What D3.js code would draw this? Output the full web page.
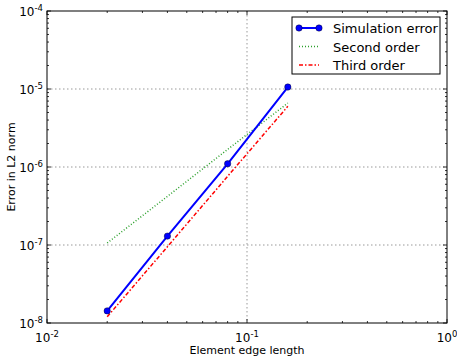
<!DOCTYPE html>
<html lang="en">
<head>
<meta charset="UTF-8">
<title>Convergence</title>
<script src="https://cdn.jsdelivr.net/npm/d3@7"></script>
<style>
  body { margin: 0; background: #fff; }
  text { font-family: "DejaVu Sans", sans-serif; fill: #000; }
  .grid line { stroke: #999; stroke-dasharray: 1.5,2.5; stroke-width: 1; }
</style>
</head>
<body>
<svg id="chart" width="457" height="363"></svg>
<script>
// data
var edgeLength = [0.02, 0.04, 0.08, 0.16];
var simError = [1.43e-8, 1.30e-7, 1.10e-6, 1.06e-5];
var secondOrder = [1.06e-7, 4.2e-7, 1.68e-6, 6.6e-6];
var thirdOrder = [1.2e-8, 9.5e-8, 7.6e-7, 6.0e-6];
var xTicks = [1e-2, 1e-1, 1e0];
var xTickLabels = ["-2", "-1", "0"];
var yTicks = [1e-8, 1e-7, 1e-6, 1e-5, 1e-4];
var yTickLabels = ["-8", "-7", "-6", "-5", "-4"];

var svg = d3.select("#chart");
var pLeft = 47, pRight = 447, pTop = 11, pBottom = 323;

var x = d3.scaleLog().domain([1e-2, 1]).range([pLeft, pRight]);
var y = d3.scaleLog().domain([1e-8, 1e-4]).range([pBottom, pTop]);

// grid
var grid = svg.append("g").attr("class", "grid");
grid.selectAll(".gx").data(xTicks.slice(1, -1)).enter().append("line")
    .attr("x1", d => x(d)).attr("x2", d => x(d))
    .attr("y1", pTop).attr("y2", pBottom);
grid.selectAll(".gy").data(yTicks.slice(1, -1)).enter().append("line")
    .attr("y1", d => y(d)).attr("y2", d => y(d))
    .attr("x1", pLeft).attr("x2", pRight);

// minor ticks
function minors(lo, hi) {
  var out = [];
  for (var e = lo; e < hi; e++)
    for (var m = 2; m <= 9; m++) out.push(m * Math.pow(10, e));
  return out;
}
var xMinor = minors(-2, 0), yMinor = minors(-8, -4);
var tk = svg.append("g").attr("stroke", "#000").attr("stroke-width", 0.8);
function xt(data, len) {
  tk.selectAll(null).data(data).enter().append("line")
    .attr("x1", d => x(d)).attr("x2", d => x(d)).attr("y1", pBottom).attr("y2", pBottom - len);
  tk.selectAll(null).data(data).enter().append("line")
    .attr("x1", d => x(d)).attr("x2", d => x(d)).attr("y1", pTop).attr("y2", pTop + len);
}
function yt(data, len) {
  tk.selectAll(null).data(data).enter().append("line")
    .attr("y1", d => y(d)).attr("y2", d => y(d)).attr("x1", pLeft).attr("x2", pLeft + len);
  tk.selectAll(null).data(data).enter().append("line")
    .attr("y1", d => y(d)).attr("y2", d => y(d)).attr("x1", pRight).attr("x2", pRight - len);
}
xt(xTicks, 4); xt(xMinor, 2); yt(yTicks, 4); yt(yMinor, 2);

// lines
var line = d3.line().x(d => x(d[0])).y(d => y(d[1]));
svg.append("path").datum(d3.zip(edgeLength, secondOrder))
    .attr("d", line).attr("fill", "none").attr("stroke", "#2ca02c")
    .attr("stroke-width", 1.5).attr("stroke-dasharray", "1,2");
svg.append("path").datum(d3.zip(edgeLength, thirdOrder))
    .attr("d", line).attr("fill", "none").attr("stroke", "#ff0000")
    .attr("stroke-width", 1.5).attr("stroke-dasharray", "4,2,1.5,2");
svg.append("path").datum(d3.zip(edgeLength, simError))
    .attr("d", line).attr("fill", "none").attr("stroke", "#0000ff").attr("stroke-width", 2);
svg.selectAll(".pt").data(d3.zip(edgeLength, simError)).enter().append("circle")
    .attr("cx", d => x(d[0])).attr("cy", d => y(d[1])).attr("r", 3.2)
    .attr("fill", "#0000ff").attr("stroke", "#000").attr("stroke-width", 0.4);

// frame
svg.append("rect").attr("x", pLeft).attr("y", pTop)
    .attr("width", pRight - pLeft).attr("height", pBottom - pTop)
    .attr("fill", "none").attr("stroke", "#000").attr("stroke-width", 1);

// tick labels
function pow10(g, exp, anchorX, anchorY, align) {
  var t = g.append("text").attr("x", anchorX).attr("y", anchorY)
      .attr("text-anchor", align).style("font-size", "12px");
  t.append("tspan").text("10");
  t.append("tspan").attr("dy", -5).style("font-size", "8.5px").text(exp);
}
var lab = svg.append("g");
xTicks.forEach((d, i) => pow10(lab, xTickLabels[i], x(d), pBottom + 19, "middle"));
yTicks.forEach((d, i) => pow10(lab, yTickLabels[i], pLeft - 4, y(d) + 5, "end"));

svg.append("text").attr("x", (pLeft + pRight) / 2).attr("y", 354)
    .attr("text-anchor", "middle").style("font-size", "11px").text("Element edge length");
svg.append("text").attr("transform", "translate(15," + ((pTop + pBottom) / 2) + ") rotate(-90)")
    .attr("text-anchor", "middle").style("font-size", "11px").text("Error in L2 norm");

// legend
var lg = svg.append("g");
lg.append("rect").attr("x", 292).attr("y", 17).attr("width", 148).attr("height", 57)
    .attr("fill", "#fff").attr("stroke", "#000").attr("stroke-width", 1);
var legendNames = ["Simulation error", "Second order", "Third order"];
var legendRows = lg.selectAll(".row").data(legendNames).enter().append("g")
    .attr("transform", (d, i) => "translate(0," + (28 + i * 18.5) + ")");
legendRows.append("text").attr("x", 333).attr("y", 5).style("font-size", "13px").text(d => d);
legendRows.filter((d, i) => i == 0).append("line")
    .attr("x1", 299).attr("x2", 319).attr("stroke", "#0000ff").attr("stroke-width", 2);
legendRows.filter((d, i) => i == 0).selectAll("circle").data([299, 319]).enter().append("circle")
    .attr("cx", d => d).attr("r", 3.2).attr("fill", "#0000ff").attr("stroke", "#000").attr("stroke-width", 0.4);
legendRows.filter((d, i) => i == 1).append("line")
    .attr("x1", 299).attr("x2", 319).attr("stroke", "#2ca02c").attr("stroke-width", 1.5).attr("stroke-dasharray", "1,2");
legendRows.filter((d, i) => i == 2).append("line")
    .attr("x1", 299).attr("x2", 319).attr("stroke", "#ff0000").attr("stroke-width", 1.5).attr("stroke-dasharray", "4,2,1.5,2");
</script>
</body>
</html>
